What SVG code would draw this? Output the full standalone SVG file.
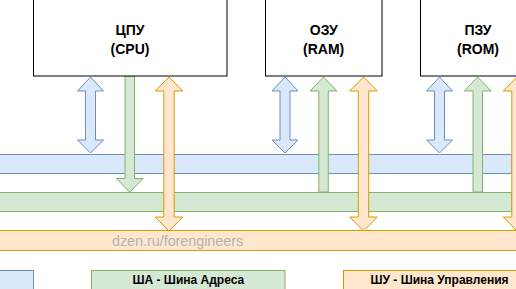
<svg xmlns="http://www.w3.org/2000/svg" width="516" height="289" viewBox="0 0 516 289">
<style>
.box{fill:#ffffff;stroke:#000000;stroke-width:1}
.lbl{font-family:"Liberation Sans",Arial,sans-serif;font-weight:bold;font-size:14px;fill:#000;text-anchor:middle}
.leg{font-family:"Liberation Sans",Arial,sans-serif;font-weight:bold;font-size:12px;fill:#000;text-anchor:middle}
.blue{fill:#dae8fc;stroke:#6c8ebf;stroke-width:1}
.green{fill:#d5e8d4;stroke:#82b366;stroke-width:1}
.orange{fill:#ffe6cc;stroke:#d79b00;stroke-width:1}
.wm{font-family:"Liberation Sans",Arial,sans-serif;font-size:14.3px;fill:#b3b3b3}
</style>
<rect width="516" height="289" fill="#ffffff"/>
<g id="bus-data"><rect class="blue" x="-5" y="154.5" width="517" height="19"/></g>
<g id="bus-address"><rect class="green" x="-5" y="192.5" width="517" height="19"/></g>
<g id="bus-control"><rect class="orange" x="-5" y="230.5" width="530" height="20"/>
<text class="wm" x="112" y="246">dzen.ru/forengineers</text></g>
<g id="connectors">
<path class="blue" d="M90.5,77 L103.5,91 L95.5,91 L95.5,140 L103.5,140 L90.5,153 L77.5,140 L85.5,140 L85.5,91 L77.5,91 Z"/>
<path class="blue" d="M285,77 L298,91 L290,91 L290,140 L298,140 L285,153 L272,140 L280,140 L280,91 L272,91 Z"/>
<path class="blue" d="M439.5,77 L452.5,91 L444.5,91 L444.5,140 L452.5,140 L439.5,153 L426.5,140 L434.5,140 L434.5,91 L426.5,91 Z"/>
<path class="green" d="M125,76 L134.5,76 L134.5,178.5 L143,178.5 L129.7,192.3 L116.5,178.5 L125,178.5 Z"/>
<path class="green" d="M323.5,77 L337,91 L328.3,91 L328.3,192 L318.8,192 L318.8,91 L310,91 Z"/>
<path class="green" d="M477.7,77 L491.2,91 L482.5,91 L482.5,192 L473,192 L473,91 L464.3,91 Z"/>
<path class="orange" d="M169,77 L182.8,91 L174.2,91 L174.2,217 L182.8,217 L169,231 L155.2,217 L163.8,217 L163.8,91 L155.2,91 Z"/>
<path class="orange" d="M363.5,77 L377.3,91 L368.7,91 L368.7,217 L377.3,217 L363.5,231 L349.7,217 L358.3,217 L358.3,91 L349.7,91 Z"/>
<path class="orange" d="M517,77 L530.8,91 L522.2,91 L522.2,217 L530.8,217 L517,231 L503.2,217 L511.8,217 L511.8,91 L503.2,91 Z"/>
</g>
<g id="cpu"><rect class="box" x="33.5" y="-1" width="193.5" height="77"/>
<text class="lbl" x="130" y="34.5">ЦПУ</text><text class="lbl" x="130" y="53.5">(CPU)</text></g>
<g id="ram"><rect class="box" x="265.5" y="-1" width="116.5" height="77"/>
<text class="lbl" x="323.7" y="34.5">ОЗУ</text><text class="lbl" x="323.7" y="53.5">(RAM)</text></g>
<g id="rom"><rect class="box" x="420.5" y="-1" width="115" height="77"/>
<text class="lbl" x="478" y="34.5">ПЗУ</text><text class="lbl" x="478" y="53.5">(ROM)</text></g>
<g id="legend-data"><rect class="blue" x="-160" y="270.5" width="193.5" height="30"/></g>
<g id="legend-address"><rect class="green" x="91.5" y="270.5" width="193.5" height="30"/>
<text class="leg" x="188.3" y="284">ША - Шина Адреса</text></g>
<g id="legend-control"><rect class="orange" x="343.5" y="270.5" width="193.5" height="30"/>
<text class="leg" x="439.5" y="284">ШУ - Шина Управления</text></g>
</svg>
